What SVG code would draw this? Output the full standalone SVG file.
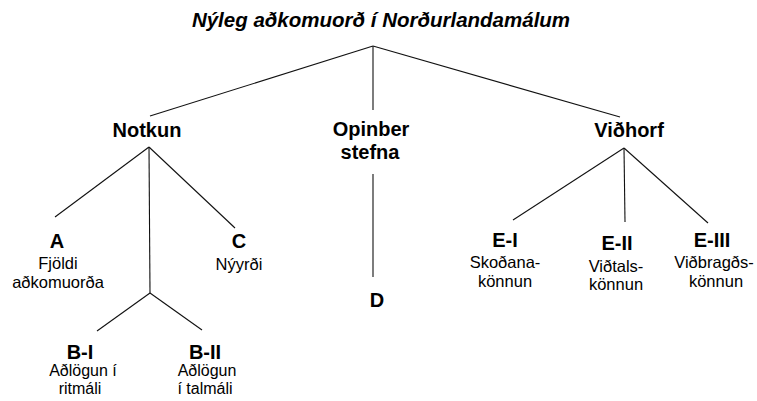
<svg xmlns="http://www.w3.org/2000/svg" width="757" height="401" viewBox="0 0 757 401">
<style>
text{font-family:"Liberation Sans",Arial,sans-serif;fill:#000;text-anchor:middle}
.t{font-size:20.5px;font-weight:bold;font-style:italic}
.h{font-size:20px;font-weight:bold}
.s{font-size:16.5px}
.b{font-size:16px}
.c line{stroke:#111;stroke-width:1.1}
</style>
<rect width="757" height="401" fill="#fff"/>
<g id="title"><text class="t" x="381" y="27">Nýleg aðkomuorð í Norðurlandamálum</text></g>
<g class="c" id="connectors">
<line x1="373" y1="46" x2="150" y2="116"/>
<line x1="373" y1="46" x2="373" y2="110"/>
<line x1="373" y1="46" x2="620" y2="117"/>
<line x1="149" y1="147" x2="55" y2="217"/>
<line x1="149" y1="147" x2="150" y2="293"/>
<line x1="149" y1="147" x2="235" y2="228"/>
<line x1="150" y1="293" x2="97" y2="331"/>
<line x1="150" y1="293" x2="202" y2="330"/>
<line x1="373" y1="174" x2="373" y2="277"/>
<line x1="624" y1="148" x2="513" y2="220"/>
<line x1="624" y1="148" x2="625" y2="222"/>
<line x1="624" y1="148" x2="708" y2="223"/>
</g>
<g id="notkun"><text class="h" x="147" y="137">Notkun</text></g>
<g id="opinber"><text class="h" x="371" y="136">Opinber</text><text class="h" x="370" y="159">stefna</text></g>
<g id="vidhorf"><text class="h" x="629" y="137">Viðhorf</text></g>
<g id="A"><text class="h" x="57" y="248">A</text><text class="s" x="58" y="269">Fjöldi</text><text class="s" x="58" y="288">aðkomuorða</text></g>
<g id="C"><text class="h" x="239" y="248">C</text><text class="s" x="239" y="270">Nýyrði</text></g>
<g id="D"><text class="h" x="377" y="307">D</text></g>
<g id="BI"><text class="h" x="80" y="359">B-I</text><text class="b" x="83" y="376">Aðlögun í</text><text class="b" x="80" y="394">ritmáli</text></g>
<g id="BII"><text class="h" x="205" y="359">B-II</text><text class="b" x="207" y="376">Aðlögun</text><text class="b" x="205" y="394">í talmáli</text></g>
<g id="EI"><text class="h" x="505" y="247">E-I</text><text class="s" x="505" y="268">Skoðana-</text><text class="s" x="505" y="287">könnun</text></g>
<g id="EII"><text class="h" x="617" y="250">E-II</text><text class="s" x="616" y="272">Viðtals-</text><text class="s" x="616" y="290">könnun</text></g>
<g id="EIII"><text class="h" x="712" y="247">E-III</text><text class="s" x="714" y="268">Viðbragðs-</text><text class="s" x="716" y="287">könnun</text></g>
</svg>
